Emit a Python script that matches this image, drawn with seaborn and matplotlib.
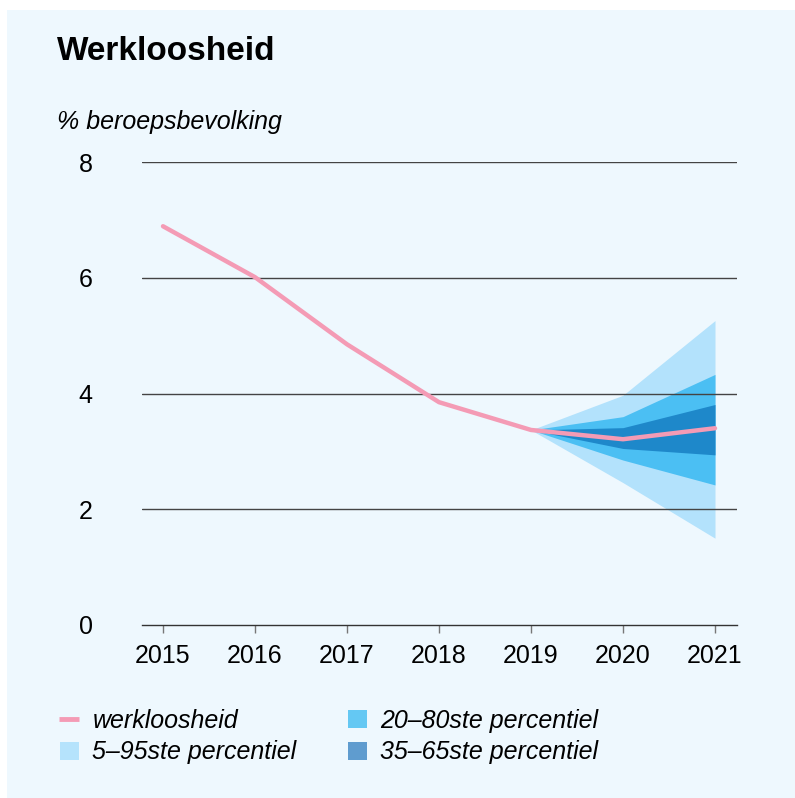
import numpy as np
import pandas as pd
import matplotlib
matplotlib.use('Agg')
import matplotlib.pyplot as plt
from matplotlib.patches import Patch, Rectangle
from matplotlib.lines import Line2D
import seaborn as sns

# data
years = [2015, 2016, 2017, 2018, 2019, 2020, 2021]
werkloosheid = [6.89, 6.01, 4.85, 3.85, 3.37, 3.21, 3.40]

band_years = [2019, 2020, 2021]
p05 = [3.37, 2.46, 1.50]
p95 = [3.37, 3.97, 5.26]
p20 = [3.37, 2.85, 2.42]
p80 = [3.37, 3.60, 4.33]
p35 = [3.37, 3.05, 2.94]
p65 = [3.37, 3.41, 3.81]

yticks = [0, 2, 4, 6, 8]

bg = '#eef8fe'
sns.set_style('white', {'axes.facecolor': bg, 'figure.facecolor': bg,
                        'text.color': 'black', 'xtick.color': 'black',
                        'ytick.color': 'black'})
plt.rcParams['font.family'] = ['Liberation Sans', 'DejaVu Sans']

df = pd.DataFrame({'jaar': years, 'werkloosheid': werkloosheid})

fig = plt.figure(figsize=(7.95, 7.98), dpi=100)
# white strip at top and left as in reference
fig.patches.append(Rectangle((0, 1 - 10 / 798), 1, 10 / 798, transform=fig.transFigure,
                             facecolor='white', edgecolor='none', zorder=-10))
fig.patches.append(Rectangle((0, 0), 7 / 795, 1, transform=fig.transFigure,
                             facecolor='white', edgecolor='none', zorder=-10))

ax = fig.add_axes([142 / 795, 1 - 625 / 798, (737 - 142) / 795, (625 - 162) / 798])
ax.set_facecolor(bg)

ax.fill_between(band_years, p05, p95, color='#b3e2fc', lw=0, zorder=1)
ax.fill_between(band_years, p20, p80, color='#4bbff3', lw=0, zorder=2)
ax.fill_between(band_years, p35, p65, color='#1e88ca', lw=0, zorder=3)

for y in yticks[1:]:
    ax.axhline(y, color='#444444', lw=1, zorder=4)

sns.lineplot(data=df, x='jaar', y='werkloosheid', ax=ax, color='#f49bb5', lw=3.2, zorder=5)

ax.set_xlim(2015 - 21 / 92, 2021 + 22 / 92)
ax.set_ylim(0, 8)
ax.set_xticks(years)
ax.set_xticklabels([str(y) for y in years])
ax.set_yticks(yticks)
ax.set_yticklabels([str(y) for y in yticks])
ax.set_xlabel('')
ax.set_ylabel('')

for s in ['top', 'right', 'left']:
    ax.spines[s].set_visible(False)
ax.spines['bottom'].set_color('#333333')
ax.spines['bottom'].set_linewidth(1)

ax.tick_params(axis='x', bottom=True, length=6, width=1, color='#777777',
               labelsize=18, labelcolor='black', pad=8)
ax.tick_params(axis='y', left=False, labelsize=18, labelcolor='black', pad=32)

fig.text(57 / 795, 1 - 52 / 798, 'Werkloosheid', fontsize=24, fontweight='bold',
         va='center', ha='left', color='black')
fig.text(57 / 795, 1 - 122 / 798, '% beroepsbevolking', fontsize=18, fontstyle='italic',
         va='center', ha='left', color='black')

handles = [
    Line2D([0], [0], color='#f49bb5', lw=0, marker='_', markersize=14,
           markeredgewidth=3.5),
    Patch(facecolor='#b5e3fc', edgecolor='none'),
    Patch(facecolor='#64c8f3', edgecolor='none'),
    Patch(facecolor='#5f9ccf', edgecolor='none'),
]
labels = ['werkloosheid', '5\u201395ste percentiel', '20\u201380ste percentiel',
          '35\u201365ste percentiel']
leg = fig.legend(handles, labels, ncol=2, loc='upper left',
                 bbox_to_anchor=(50 / 795, 1 - 699 / 798), frameon=False,
                 prop={'size': 18, 'style': 'italic'}, handlelength=0.75,
                 handleheight=0.75, handletextpad=0.55, columnspacing=2.05,
                 labelspacing=0.3, borderaxespad=0, labelcolor='black')

fig.savefig('out.png', dpi=100, facecolor=bg)
